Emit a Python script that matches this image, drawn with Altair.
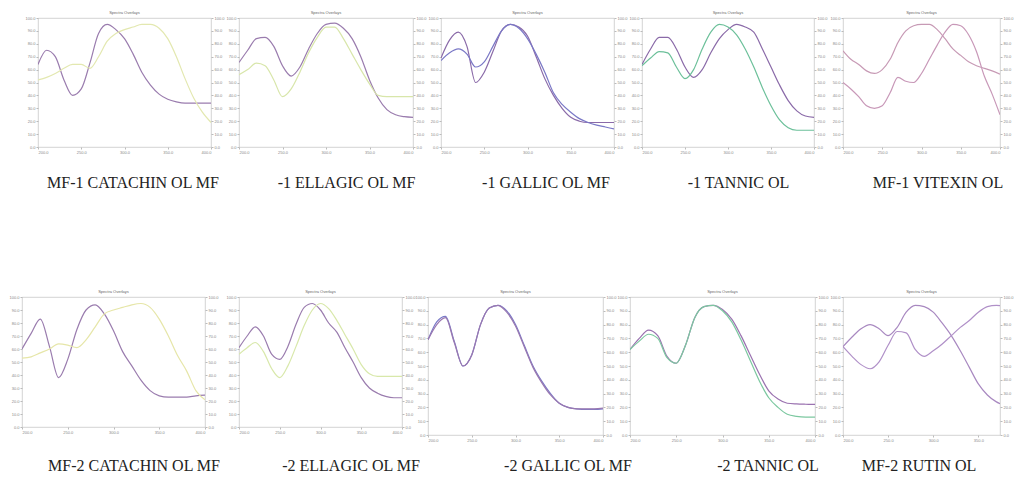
import altair as alt
import pandas as pd

# ---------------- data ----------------
X_NM = [200, 210, 220, 230, 240, 250, 260, 270, 280, 290, 300,
        310, 320, 330, 340, 350, 360, 370, 380, 390, 400]
X_TICKS = [200, 250, 300, 350, 400]
Y_TICKS = [0, 10, 20, 30, 40, 50, 60, 70, 80, 90, 100]
PANEL_TITLE = "Spectra Overlays"

TOP_CAPTIONS = ["MF-1 CATACHIN OL MF", "-1 ELLAGIC OL MF", "-1 GALLIC OL MF",
                "-1 TANNIC OL", "MF-1 VITEXIN OL"]
BOTTOM_CAPTIONS = ["MF-2 CATACHIN OL MF", "-2 ELLAGIC OL MF", "-2 GALLIC OL MF",
                   "-2 TANNIC OL", "MF-2 RUTIN OL"]

# top row series
T1_A = [64, 75, 70, 52, 40, 45, 65, 88, 95, 91, 84, 72, 58, 48, 41, 37, 35, 34, 34, 34, 34]
T1_B = [52, 54, 57, 61, 64, 64, 61, 70, 82, 88, 91, 93, 95, 95, 92, 84, 70, 53, 38, 27, 19]
T2_A = [65.5, 75, 84, 85, 78, 63, 55, 62, 76, 88, 95, 96, 92, 84, 70, 52, 38, 29, 25, 23.5, 23]
T2_B = [56, 60, 65, 63, 52, 39, 45, 58, 73, 85, 93, 93, 84, 72, 60, 49, 40, 39, 39, 39, 39]
T3_A = [69, 83, 89, 78, 50, 58, 74, 90, 95, 93, 86, 70, 53, 40, 30, 23, 20, 19, 19, 19, 19]
T3_B = [67, 73, 76, 72, 62, 66, 78, 90, 95, 92, 84, 72, 58, 42, 33, 27, 22, 19, 17, 15.5, 14]
T4_A = [64, 76, 85, 85, 76, 62, 54, 60, 73, 84, 91, 95, 93, 89, 76, 62, 48, 36, 28, 24, 23]
T4_B = [63, 69, 74, 73, 62, 53, 60, 76, 89, 95, 93, 87, 76, 62, 46, 32, 21, 15, 13, 13, 13]
T5_A = [74.6, 68, 64, 59, 57, 60, 68, 81, 90, 94, 95, 95, 91, 84, 76, 71, 66, 63, 61, 59, 56.5]
T5_B = [50, 45, 39, 32, 30, 32, 42, 54, 51, 50, 57, 68, 79, 89, 95, 94, 87, 74, 55, 41, 25]

# bottom row series
B1_A = [60, 72, 83, 62, 38, 52, 75, 90, 94, 87, 74, 58, 47, 36, 28, 24, 23, 23, 23, 24, 24.5]
B1_B = [53, 54, 57, 60, 64, 63, 61, 67, 77, 87, 90, 92, 94, 95, 92, 83, 70, 55, 43, 28, 21]
B2_A = [61, 70, 77, 70, 56, 52, 62, 79, 92, 95, 90, 80, 73, 61, 50, 38, 30, 26, 23.5, 22.5, 22.5]
B2_B = [56, 61, 65, 58, 45, 38, 47, 62, 78, 90, 95, 91, 82, 71, 60, 48, 41, 39, 39, 39, 39]
B3_A = [69, 82, 86, 68, 50, 58, 80, 92, 94, 90, 80, 65, 50, 39, 30, 23, 20, 19, 18.5, 18.5, 19]
B3_B = [69, 80, 85, 67, 50, 58, 80, 92, 94, 89, 79, 64, 49, 38, 29, 23, 20, 19, 19, 19, 19.5]
B4_A = [62, 70, 76, 72, 57, 52, 65, 85, 93, 94, 91, 84, 72, 58, 44, 32, 26, 23, 22.5, 22.3, 22.2]
B4_B = [62, 68, 73, 70, 56, 52, 65, 85, 93, 94, 90, 82, 69, 54, 39, 27, 20, 15, 13.5, 13, 13]
B5_A = [64, 71, 77, 80, 77, 72, 78, 89, 94, 93, 89, 81, 72, 61, 49, 37, 29, 24, 21.5, 20.5, 20]
B5_B = [64, 57, 51, 48, 53, 65, 75, 74, 62, 57, 61, 66, 72, 78, 83, 89, 93, 94, 92, 82, 71]

TOP_COLORS = [("#9a7cae", "#e3e8b0"), ("#9a7cae", "#d8e6aa"), ("#8a6aa8", "#7a78c6"),
              ("#8a6aa8", "#6cc09a"), ("#c79ab5", "#c898b8")]
BOTTOM_COLORS = [("#9a7cae", "#e6e6a8"), ("#9a7cae", "#d8e8aa"), ("#7a7ac8", "#9a78b0"),
                 ("#9a72b0", "#7cc8a0"), ("#a888c0", "#b090c8")]

LABEL_STYLE = dict(labelFontSize=4, labelColor="#888", tickSize=2,
                   tickColor="#bbb", domain=False, grid=False, labelPadding=1)


def panel(a, b, colors, caption, w, h, dx, ty, xmax=400):
    df_a = pd.DataFrame({"x": X_NM, "y": a})
    df_b = pd.DataFrame({"x": X_NM, "y": b})
    xscale = alt.Scale(domain=[200, xmax], nice=False, zero=False)
    yscale = alt.Scale(domain=[0, 100], nice=False)
    xax = alt.Axis(values=[t for t in X_TICKS if t <= xmax], format=".1f", title=caption,
                   titleFont="Liberation Serif", titleFontSize=16,
                   titleFontWeight="normal", titleColor="#222",
                   titleX=w / 2 + dx, titleY=ty, titleAlign="center",
                   titleBaseline="middle", **LABEL_STYLE)
    yl = alt.Axis(values=Y_TICKS, format=".1f", title=None, orient="left", **LABEL_STYLE)
    yr = alt.Axis(values=Y_TICKS, format=".1f", title=None, orient="right", **LABEL_STYLE)
    la = alt.Chart(df_a).mark_line(color=colors[0], strokeWidth=1.2, clip=True,
                                   interpolate="monotone").encode(
        x=alt.X("x:Q", scale=xscale, axis=xax),
        y=alt.Y("y:Q", scale=yscale, axis=yl))
    lb = alt.Chart(df_b).mark_line(color=colors[1], strokeWidth=1.2, clip=True,
                                   interpolate="monotone").encode(
        x=alt.X("x:Q", scale=xscale, axis=xax),
        y=alt.Y("y:Q", scale=yscale, axis=yr))
    return alt.layer(la, lb, title=alt.TitleParams(
        PANEL_TITLE, fontSize=4, color="#666", fontWeight="normal", offset=1)
    ).resolve_scale(y="independent").properties(width=w, height=h)


def spacer(w):
    return alt.Chart(pd.DataFrame({"a": [0]})).mark_point(opacity=0).encode(
        x=alt.value(0), y=alt.value(0)
    ).properties(width=w, height=1, view=alt.ViewBackground(stroke="transparent"))


TOP = [T1_A, T1_B, T2_A, T2_B, T3_A, T3_B, T4_A, T4_B, T5_A, T5_B]
BOT = [B1_A, B1_B, B2_A, B2_B, B3_A, B3_B, B4_A, B4_B, B5_A, B5_B]

top_w = [173, 174, 173, 172, 157]
top_gap = [16, 28, 28, 28, 29]
top_dx = [8, 20, 18, 10, 16]
bot_w = [183, 163, 175, 185, 157]
bot_h = [130, 130, 138, 138, 138]
bot_gap = [0, 34, 26, 27, 28]
bot_dx = [20, 30, 52, 45, -3]
bot_ty = [38, 38, 30, 30, 30]
bot_xmax = [400, 400, 400, 400, 374]

top_items = []
for i in range(5):
    top_items.append(spacer(top_gap[i]))
    top_items.append(panel(TOP[2 * i], TOP[2 * i + 1], TOP_COLORS[i], TOP_CAPTIONS[i],
                           top_w[i], 129, top_dx[i], 35))
bot_items = []
for i in range(5):
    if bot_gap[i] > 0:
        bot_items.append(spacer(bot_gap[i]))
    bot_items.append(panel(BOT[2 * i], BOT[2 * i + 1], BOTTOM_COLORS[i], BOTTOM_CAPTIONS[i],
                           bot_w[i], bot_h[i], bot_dx[i], bot_ty[i], bot_xmax[i]))

top_row = alt.hconcat(*top_items, spacing=0, bounds="flush")
bot_row = alt.hconcat(*bot_items, spacing=0, bounds="flush")

chart = alt.vconcat(top_row, bot_row, spacing=279, bounds="flush",
                    padding={"left": 0, "top": 2, "right": 0, "bottom": 0},
                    background="white").configure_view(stroke="#c8c8c8", strokeWidth=0.8)

chart.save("out.html", embed_options={"renderer": "svg", "actions": False})
